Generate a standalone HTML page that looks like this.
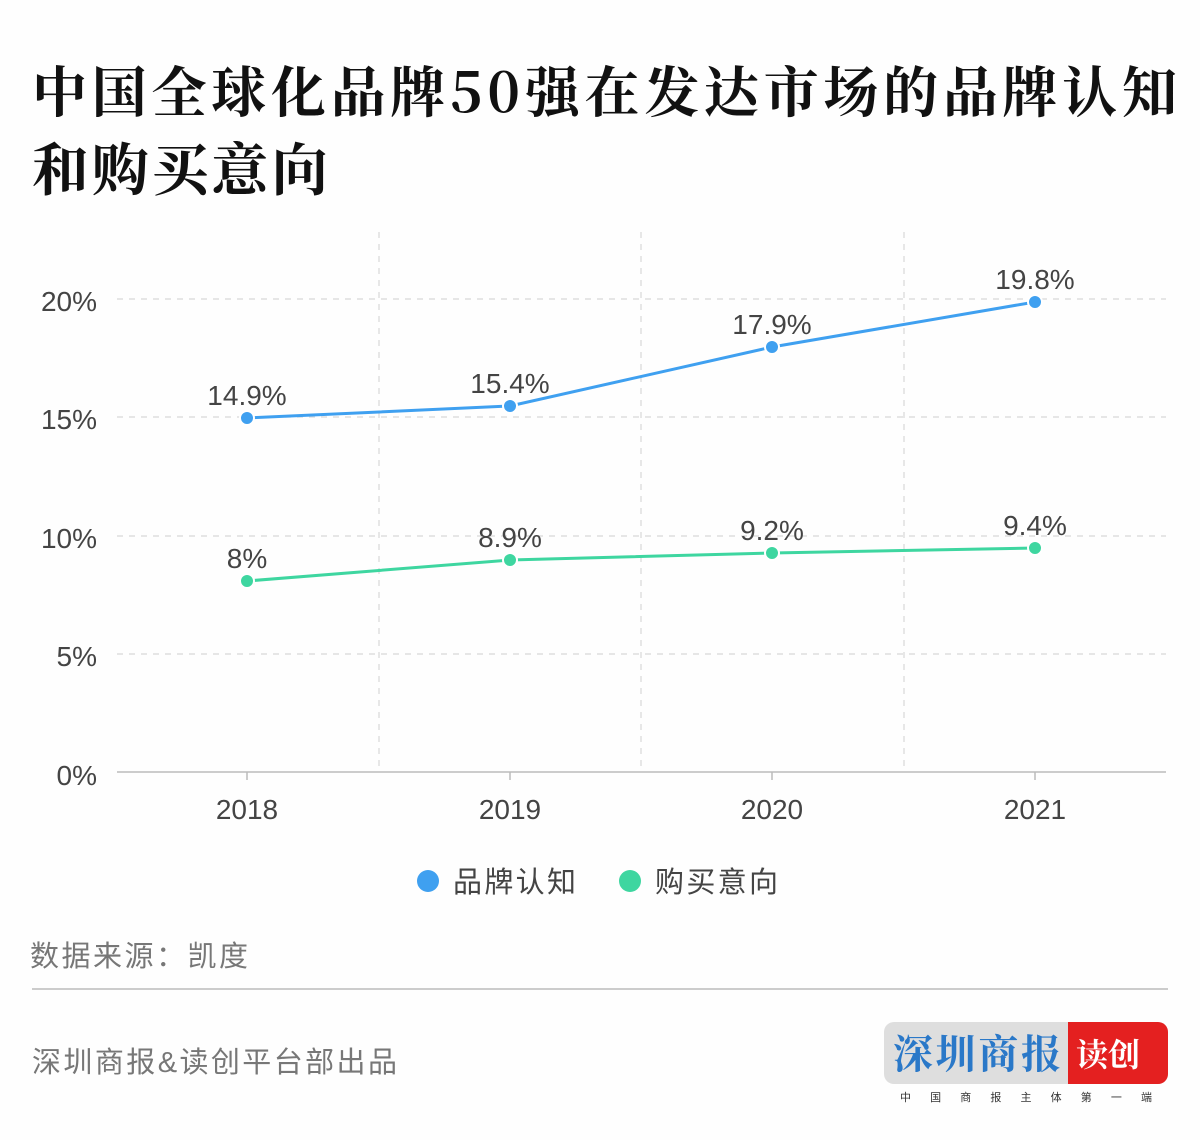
<!DOCTYPE html>
<html><head><meta charset="utf-8"><style>
body{margin:0;background:#fff;width:1200px;height:1140px;overflow:hidden}
svg{display:block}
</style></head><body>
<svg width="1200" height="1140" xmlns="http://www.w3.org/2000/svg" font-family="Liberation Sans, Noto Sans CJK SC, sans-serif">
<rect width="1200" height="1140" fill="#fefefe"/>
<text x="32" y="112" font-size="55" font-weight="bold" fill="#111" font-family="Noto Serif CJK SC, serif" textLength="1145">中国全球化品牌50强在发达市场的品牌认知</text>
<text x="32" y="190" font-size="57" font-weight="bold" fill="#111" font-family="Noto Serif CJK SC, serif" textLength="296">和购买意向</text>
<g stroke="#d8d8d8" stroke-width="1.2" stroke-dasharray="6 6">
<line x1="117" y1="299" x2="1166" y2="299"/>
<line x1="117" y1="417" x2="1166" y2="417"/>
<line x1="117" y1="536" x2="1166" y2="536"/>
<line x1="117" y1="654" x2="1166" y2="654"/>
<line x1="379" y1="232" x2="379" y2="772"/>
<line x1="641" y1="232" x2="641" y2="772"/>
<line x1="904" y1="232" x2="904" y2="772"/>
</g>
<line x1="117" y1="772" x2="1166" y2="772" stroke="#bbb" stroke-width="1.5"/>
<g stroke="#bbb" stroke-width="1.5"><line x1="247" y1="772" x2="247" y2="780"/><line x1="510" y1="772" x2="510" y2="780"/><line x1="772" y1="772" x2="772" y2="780"/><line x1="1035" y1="772" x2="1035" y2="780"/></g>
<g font-size="28" fill="#444" text-anchor="end">
<text x="97" y="311">20%</text><text x="97" y="429">15%</text><text x="97" y="548">10%</text><text x="97" y="666">5%</text><text x="97" y="785">0%</text>
</g>
<g font-size="28" fill="#444" text-anchor="middle">
<text x="247" y="819">2018</text><text x="510" y="819">2019</text><text x="772" y="819">2020</text><text x="1035" y="819">2021</text>
</g>
<polyline points="247,418 510,406 772,347 1035,302" fill="none" stroke="#3fa0f0" stroke-width="3"/>
<polyline points="247,581 510,560 772,553 1035,548" fill="none" stroke="#3ed6a0" stroke-width="3"/>
<g stroke="#fff" stroke-width="2">
<circle cx="247" cy="418" r="7" fill="#3fa0f0"/><circle cx="510" cy="406" r="7" fill="#3fa0f0"/><circle cx="772" cy="347" r="7" fill="#3fa0f0"/><circle cx="1035" cy="302" r="7" fill="#3fa0f0"/>
<circle cx="247" cy="581" r="7" fill="#3ed6a0"/><circle cx="510" cy="560" r="7" fill="#3ed6a0"/><circle cx="772" cy="553" r="7" fill="#3ed6a0"/><circle cx="1035" cy="548" r="7" fill="#3ed6a0"/>
</g>
<g font-size="28" fill="#444" text-anchor="middle">
<text x="247" y="405">14.9%</text><text x="510" y="393">15.4%</text><text x="772" y="334">17.9%</text><text x="1035" y="289">19.8%</text>
<text x="247" y="568">8%</text><text x="510" y="547">8.9%</text><text x="772" y="540">9.2%</text><text x="1035" y="535">9.4%</text>
</g>
<circle cx="428" cy="881" r="11" fill="#3fa0f0"/>
<text x="453" y="892" font-size="29" fill="#444" textLength="123">品牌认知</text>
<circle cx="630" cy="881" r="11" fill="#3ed6a0"/>
<text x="655" y="892" font-size="29" fill="#444" textLength="123">购买意向</text>
<text x="30" y="966" font-size="29" fill="#777" textLength="218">数据来源：凯度</text>
<line x1="32" y1="989" x2="1168" y2="989" stroke="#bbb" stroke-width="1.5"/>
<text x="32" y="1072" font-size="29" fill="#777" textLength="365">深圳商报&amp;读创平台部出品</text>
<rect x="884" y="1022" width="284" height="62" rx="10" fill="#dedede"/>
<path d="M1068 1022 H1158 a10 10 0 0 1 10 10 V1074 a10 10 0 0 1 -10 10 H1068 Z" fill="#e42020"/>
<text x="893" y="1068" font-size="40" fill="#2a78c8" font-weight="bold" font-family="Noto Serif CJK SC, serif" textLength="168">深圳商报</text>
<text x="1076" y="1066" font-size="32" fill="#fff" font-weight="bold" font-family="Noto Serif CJK SC, serif">读创</text>
<text x="900" y="1101" font-size="11" fill="#333" textLength="252" font-family="Noto Sans CJK SC, sans-serif">中 国 商 报 主 体 第 一 端</text>
</svg>
</body></html>
